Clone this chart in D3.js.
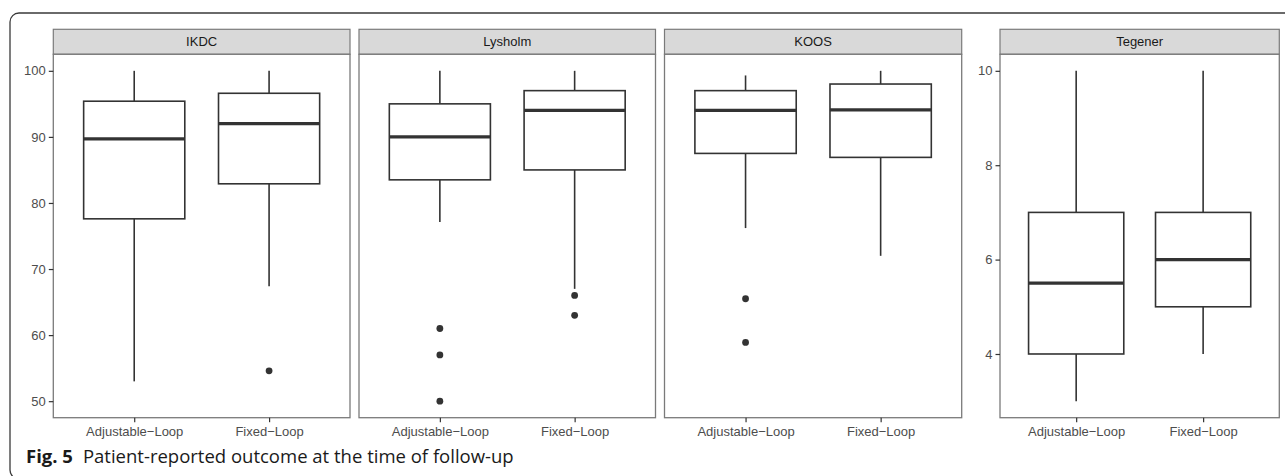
<!DOCTYPE html>
<html>
<head>
<meta charset="utf-8">
<script src="https://cdn.jsdelivr.net/npm/d3@7"></script>
<style>
  html, body { margin: 0; padding: 0; background: #fff; }
  svg { display: block; }
</style>
</head>
<body>
<svg id="chart" width="1285" height="476"></svg>
<script>
// ---------- DATA ----------
const groups = ["Adjustable\u2212Loop", "Fixed\u2212Loop"];
const panelNames = ["IKDC", "Lysholm", "KOOS", "Tegener"];
// box stats: [lower whisker, Q1, median, Q3, upper whisker] per group
const ikdcStats    = [[53.0, 77.6, 89.7, 95.4, 100], [67.4, 82.9, 92.0, 96.6, 100]];
const ikdcOutliers = [[], [54.6]];
const lysholmStats    = [[77.1, 83.5, 90.0, 95.0, 100], [67.0, 85.0, 94.0, 97.0, 100]];
const lysholmOutliers = [[61, 57, 50], [66, 63]];
const koosStats    = [[76.2, 87.5, 94.0, 97.0, 99.3], [72.0, 86.9, 94.1, 98.0, 100]];
const koosOutliers = [[65.5, 58.9], []];
const tegenerStats    = [[3, 4, 5.5, 7, 10], [4, 5, 6, 7, 10]];
const tegenerOutliers = [[], []];
const scoreTicks   = [50, 60, 70, 80, 90, 100];
const tegenerTicks = [4, 6, 8, 10];
const captionBold = "Fig. 5";
const captionText = "Patient-reported outcome at the time of follow-up";

// ---------- LAYOUT ----------
const svg = d3.select("#chart");
const font = "'Liberation Sans', Arial, Helvetica, sans-serif";
const stripTop = 29.3, stripBot = 54.3, panelBot = 417.7;

// outer frame
svg.append("rect")
  .attr("x", 10).attr("y", 13).attr("width", 1300).attr("height", 466)
  .attr("rx", 9).attr("fill", "none").attr("stroke", "#3a3a3a").attr("stroke-width", 1.3);

const panels = [
  {name: panelNames[0], x0: 53.3, x1: 350.0, stats: ikdcStats, out: ikdcOutliers, ticks: scoreTicks, yaxis: true},
  {name: panelNames[1], x0: 359.0, x1: 655.5, stats: lysholmStats, out: lysholmOutliers, ticks: scoreTicks, yaxis: false},
  {name: panelNames[2], x0: 664.5, x1: 961.7, stats: koosStats, out: koosOutliers, ticks: scoreTicks, yaxis: false},
  {name: panelNames[3], x0: 1000.0, x1: 1279.3, stats: tegenerStats, out: tegenerOutliers, ticks: tegenerTicks, yaxis: true}
];

function expandDomain(lo, hi) { const e = (hi - lo) * 0.05; return [lo - e, hi + e]; }

// shared y for first three panels
const allScores = [ikdcStats, lysholmStats, koosStats].flat(2)
  .concat([ikdcOutliers, lysholmOutliers, koosOutliers].flat(2));
const yScore = d3.scaleLinear().domain(expandDomain(d3.min(allScores), d3.max(allScores))).range([panelBot, stripBot]);
const allTeg = tegenerStats.flat().concat(tegenerOutliers.flat());
const yTeg = d3.scaleLinear().domain(expandDomain(d3.min(allTeg), d3.max(allTeg))).range([panelBot, stripBot]);

const lineCol = "#333333";
const borderCol = "#7a7a7a";

panels.forEach((p, pi) => {
  const y = pi === 3 ? yTeg : yScore;
  const g = svg.append("g");
  // discrete scale like ggplot: positions 1,2 with 0.6 expansion each side
  const x = d3.scalePoint().domain(groups).range([p.x0, p.x1]).padding(0.6);
  const unit = x.step();
  const boxW = 0.75 * unit;

  // strip
  g.append("rect").attr("x", p.x0).attr("y", stripTop).attr("width", p.x1 - p.x0).attr("height", stripBot - stripTop)
    .attr("fill", "#d9d9d9").attr("stroke", borderCol).attr("stroke-width", 1.2);
  g.append("text").attr("x", (p.x0 + p.x1) / 2).attr("y", (stripTop + stripBot) / 2)
    .attr("dy", "0.36em").attr("text-anchor", "middle")
    .attr("font-family", font).attr("font-size", 13).attr("fill", "#1a1a1a").text(p.name);

  // panel background
  g.append("rect").attr("x", p.x0).attr("y", stripBot).attr("width", p.x1 - p.x0).attr("height", panelBot - stripBot)
    .attr("fill", "#fff");

  // boxes
  groups.forEach((grp, gi) => {
    const [lw, q1, med, q3, uw] = p.stats[gi];
    const cx = x(grp);
    g.append("line").attr("x1", cx).attr("x2", cx).attr("y1", y(q3)).attr("y2", y(uw))
      .attr("stroke", lineCol).attr("stroke-width", 1.6);
    g.append("line").attr("x1", cx).attr("x2", cx).attr("y1", y(q1)).attr("y2", y(lw))
      .attr("stroke", lineCol).attr("stroke-width", 1.6);
    g.append("rect").attr("x", cx - boxW / 2).attr("y", y(q3)).attr("width", boxW).attr("height", y(q1) - y(q3))
      .attr("fill", "#fff").attr("stroke", lineCol).attr("stroke-width", 1.6);
    g.append("line").attr("x1", cx - boxW / 2).attr("x2", cx + boxW / 2).attr("y1", y(med)).attr("y2", y(med))
      .attr("stroke", lineCol).attr("stroke-width", 3.2);
    p.out[gi].forEach(v => {
      g.append("circle").attr("cx", cx).attr("cy", y(v)).attr("r", 3.4).attr("fill", lineCol);
    });
  });

  // panel border
  g.append("rect").attr("x", p.x0).attr("y", stripBot).attr("width", p.x1 - p.x0).attr("height", panelBot - stripBot)
    .attr("fill", "none").attr("stroke", borderCol).attr("stroke-width", 1.3);

  // x axis
  const xa = g.append("g").attr("transform", `translate(0,${panelBot})`)
    .call(d3.axisBottom(x).tickSize(4.5).tickPadding(4.5));
  xa.select(".domain").remove();
  xa.selectAll(".tick line").attr("stroke", "#333").attr("stroke-width", 1.2);
  xa.selectAll(".tick text").attr("font-family", font).attr("font-size", 13).attr("fill", "#4d4d4d");

  // y axis
  if (p.yaxis) {
    const ya = g.append("g").attr("transform", `translate(${p.x0},0)`)
      .call(d3.axisLeft(y).tickValues(p.ticks).tickSize(4.5).tickPadding(3).tickFormat(d3.format("d")));
    ya.select(".domain").remove();
    ya.selectAll(".tick line").attr("stroke", "#333").attr("stroke-width", 1.2);
    ya.selectAll(".tick text").attr("font-family", font).attr("font-size", 13).attr("fill", "#4d4d4d");
  }
});

// caption
const cap = svg.append("text").attr("x", 26).attr("y", 463)
  .attr("font-family", "'Open Sans', 'Noto Sans', sans-serif").attr("font-size", 18.5).attr("fill", "#1a1a1a");
cap.append("tspan").attr("font-weight", "bold").text(captionBold);
cap.append("tspan").attr("dx", 10).text(captionText);
</script>
</body>
</html>
